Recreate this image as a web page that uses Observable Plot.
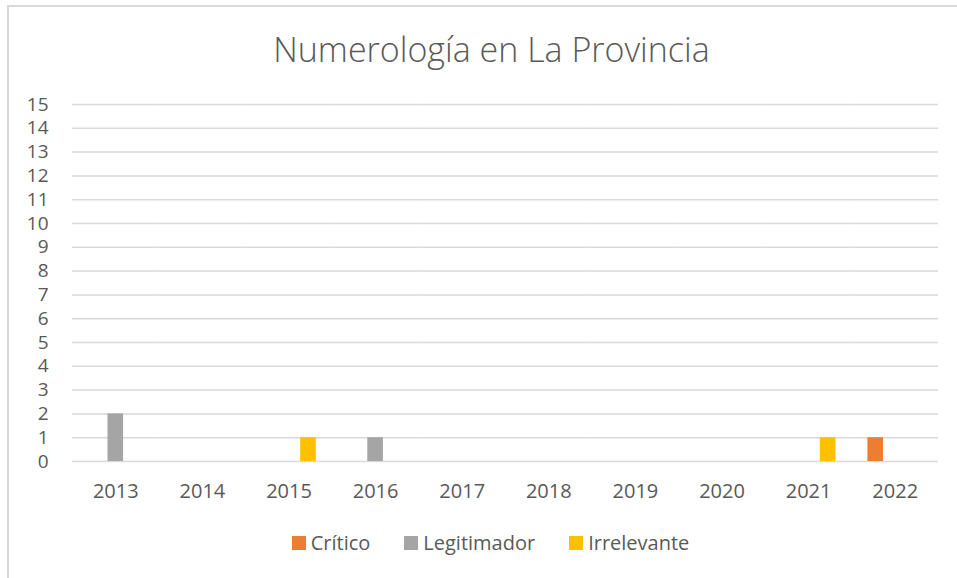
<!DOCTYPE html>
<html>
<head>
<meta charset="utf-8">
<script src="https://cdn.jsdelivr.net/npm/d3@7"></script>
<script src="https://cdn.jsdelivr.net/npm/@observablehq/plot@0.6"></script>
<style>
  html, body { margin: 0; padding: 0; background: #fff; }
  #wrap { position: relative; width: 957px; height: 578px; overflow: hidden; font-family: "Open Sans", sans-serif; color: #595959; }
  #frame { position: absolute; left: 7px; top: 5px; width: 1000px; height: 700px; border: 2px solid #d9d9d9; box-sizing: border-box; }
  #title { position: absolute; left: 0; top: 32px; width: 983px; text-align: center; font-size: 34px; line-height: 34px; font-weight: 300; color: #595959; }
  #chart { position: absolute; left: 0; top: 0; }
  #legend { position: absolute; left: 0; top: 530px; width: 981px; display: flex; justify-content: center; align-items: center; gap: 34px; font-size: 20px; line-height: 26px; color: #595959; }
  #legend .item { display: flex; align-items: center; }
  #legend .sw { width: 14px; height: 14px; margin-right: 5px; }
</style>
</head>
<body>
<div id="wrap">
  <div id="frame"></div>
  <div id="chart"></div>
  <div id="title">Numerología en La Provincia</div>
  <div id="legend"></div>
</div>
<script>
// ---- data ----
const years = ["2013", "2014", "2015", "2016", "2017", "2018", "2019", "2020", "2021", "2022"];
const series = ["Crítico", "Legitimador", "Irrelevante"];
const critico     = [0, 0, 0, 0, 0, 0, 0, 0, 0, 1];
const legitimador = [2, 0, 0, 1, 0, 0, 0, 0, 0, 0];
const irrelevante = [0, 0, 1, 0, 0, 0, 0, 0, 1, 0];
const yTicks = [0, 1, 2, 3, 4, 5, 6, 7, 8, 9, 10, 11, 12, 13, 14, 15];
const colors = ["#ED7D31", "#A5A5A5", "#FFC000"];

const seriesValues = [critico, legitimador, irrelevante];
const data = years.flatMap((year, i) =>
  series.map((s, j) => ({ year, series: s, value: seriesValues[j][i] }))
);

const chart = Plot.plot({
  width: 957,
  height: 510,
  marginTop: 104,
  marginBottom: 49,
  marginLeft: 72,
  marginRight: 19,
  style: { fontFamily: "'Open Sans', sans-serif", fontSize: "20px", color: "#595959", background: "transparent", overflow: "visible" },
  fx: { domain: years, padding: 0, round: false, axis: "bottom", tickSize: 0, tickPadding: 22, label: null },
  x: { domain: series, axis: null, round: false, paddingInner: 0.2, paddingOuter: 0.82 },
  y: { domain: [0, 15], axis: null },
  color: { domain: series, range: colors },
  marks: [
    Plot.ruleY(yTicks, { stroke: "#d9d9d9", strokeWidth: 1.5 }),
    Plot.axisY(yTicks, { anchor: "left", tickSize: 0, tickPadding: 24, fontSize: 19, label: null, tickFormat: d => String(d) }),
    Plot.barY(data, { fx: "year", x: "series", y: "value", fill: "series" })
  ]
});
document.getElementById("chart").appendChild(chart);

// legend from the chart's color scale
const cs = chart.scale("color");
const legend = document.getElementById("legend");
cs.domain.forEach((name, i) => {
  const item = document.createElement("div");
  item.className = "item";
  const sw = document.createElement("div");
  sw.className = "sw";
  sw.style.background = cs.range[i];
  const label = document.createElement("span");
  label.textContent = name;
  item.appendChild(sw);
  item.appendChild(label);
  legend.appendChild(item);
});
</script>
</body>
</html>
